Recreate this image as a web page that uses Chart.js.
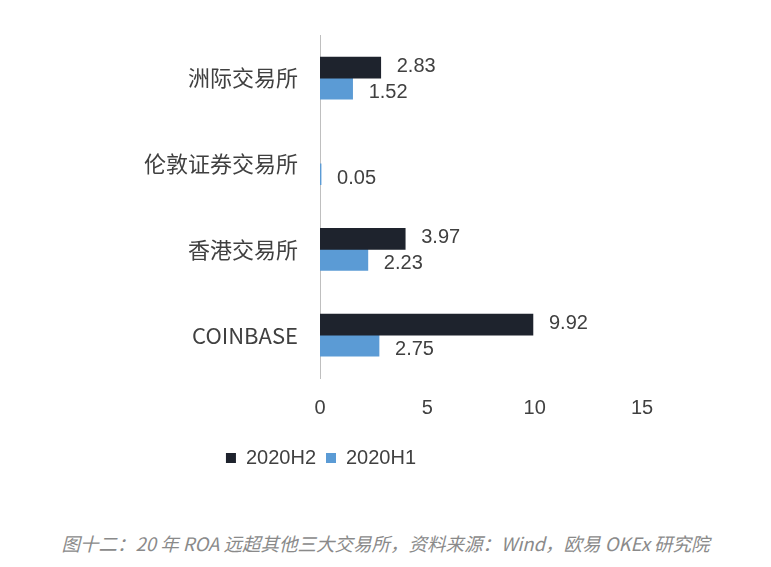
<!DOCTYPE html>
<html><head><meta charset="utf-8">
<script src="https://cdn.jsdelivr.net/npm/chart.js@4/dist/chart.umd.min.js"></script>
<style>
body{margin:0;background:#fff;width:771px;height:567px;overflow:hidden;font-family:"Noto Sans CJK SC",sans-serif}
#wrap{position:absolute;left:0;top:0;width:771px;height:490px}
#cap{position:absolute;left:0;top:530px;width:771px;text-align:center;font-style:italic;color:#8a8a8a;font-size:18.5px;font-family:"Noto Sans CJK SC",sans-serif}
</style></head><body>
<div id="wrap"><canvas id="c" width="771" height="490"></canvas></div>
<div id="cap">图十二：20 年 ROA 远超其他三大交易所，资料来源：Wind，欧易 OKEx 研究院</div>
<script>
const categories=["洲际交易所","伦敦证券交易所","香港交易所","COINBASE"];
const h2=[2.83,null,3.97,9.92];
const h1=[1.52,0.05,2.23,2.75];
const xTicks=[0,5,10,15];
const labelPlugin={id:'lbl',afterDatasetsDraw(ch){const c=ch.ctx;c.save();c.font='20px "Liberation Sans", Arial, sans-serif';c.fillStyle='#404040';c.textBaseline='middle';c.textAlign='left';
ch.data.datasets.forEach((ds,i)=>{ch.getDatasetMeta(i).data.forEach((b,j)=>{const v=ds.data[j];if(v==null)return;c.fillText(v.toFixed(2),b.x+16,b.y+(i===0?-1:4));});});c.restore();}};
new Chart(document.getElementById('c'),{type:'bar',
data:{labels:categories,datasets:[
{label:'2020H2',data:h2,backgroundColor:'#1e232d',barThickness:21},
{label:'2020H1',data:h1,backgroundColor:'#5b9bd5',barThickness:21}]},
options:{indexAxis:'y',responsive:false,animation:false,devicePixelRatio:1,
layout:{padding:{top:22,right:129,bottom:12,left:0}},
scales:{x:{min:0,max:15,afterBuildTicks(a){a.ticks=xTicks.map(v=>({value:v}));},grid:{display:false,drawTicks:false},border:{display:false},
ticks:{padding:18,color:'#404040',font:{size:20,family:'"Liberation Sans", Arial, sans-serif'}}},
y:{grid:{display:false,drawTicks:false},border:{display:true,color:'#bfbfbf',width:1},afterFit(a){a.width=320;},
ticks:{padding:22,color:'#404040',font:{size:22,family:'"Noto Sans CJK SC", sans-serif'}}}},
plugins:{legend:{position:'bottom',labels:{boxWidth:10,boxHeight:10,padding:10,color:'#404040',font:{size:20,family:'"Liberation Sans", Arial, sans-serif'}}},tooltip:{enabled:false}}},
plugins:[labelPlugin]});
</script></body></html>
